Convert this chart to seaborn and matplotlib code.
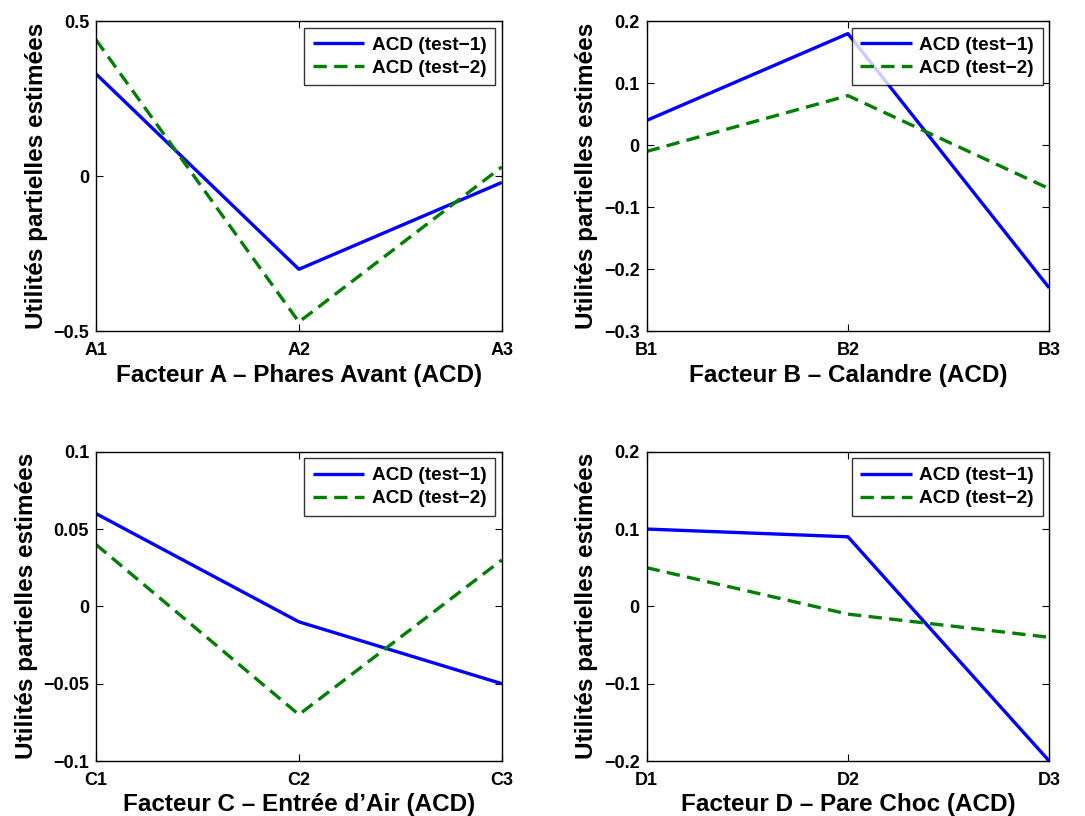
import numpy as np
import pandas as pd
import seaborn as sns
import matplotlib
matplotlib.use("Agg")
import matplotlib.pyplot as plt

# valeurs
niveaux_a = ["A1", "A2", "A3"]
niveaux_b = ["B1", "B2", "B3"]
niveaux_c = ["C1", "C2", "C3"]
niveaux_d = ["D1", "D2", "D3"]

test1_a = [0.33, -0.30, -0.02]
test2_a = [0.44, -0.47, 0.03]
test1_b = [0.04, 0.18, -0.23]
test2_b = [-0.01, 0.08, -0.07]
test1_c = [0.06, -0.01, -0.05]
test2_c = [0.04, -0.07, 0.03]
test1_d = [0.10, 0.09, -0.20]
test2_d = [0.05, -0.01, -0.04]

titres = ["Facteur A \u2013 Phares Avant (ACD)", "Facteur B \u2013 Calandre (ACD)",
          "Facteur C \u2013 Entrée d\u2019Air (ACD)", "Facteur D \u2013 Pare Choc (ACD)"]
yticks = [[-0.5, 0, 0.5], [-0.3, -0.2, -0.1, 0, 0.1, 0.2],
          [-0.1, -0.05, 0, 0.05, 0.1], [-0.2, -0.1, 0, 0.1, 0.2]]
series_labels = ["ACD (test\u22121)", "ACD (test\u22122)"]

sns.set_style("ticks")
plt.rcParams['font.family'] = ['Liberation Sans', 'DejaVu Sans']
plt.rcParams['font.weight'] = 'bold'
plt.rcParams['axes.labelweight'] = 'bold'
for k in ['text.color', 'axes.labelcolor', 'xtick.color', 'ytick.color', 'axes.edgecolor']:
    plt.rcParams[k] = 'black'

fig = plt.figure(figsize=(10.85, 8.16), dpi=100)
positions = [[0.0885, 0.594, 0.374, 0.380], [0.596, 0.594, 0.371, 0.380],
             [0.0885, 0.0674, 0.374, 0.379], [0.596, 0.0674, 0.371, 0.379]]

panels = [(niveaux_a, test1_a, test2_a), (niveaux_b, test1_b, test2_b),
          (niveaux_c, test1_c, test2_c), (niveaux_d, test1_d, test2_d)]

for i, (niv, t1, t2) in enumerate(panels):
    ax = fig.add_axes(positions[i])
    df = pd.DataFrame({
        'x': list(range(3)) * 2,
        'y': t1 + t2,
        'serie': [series_labels[0]] * 3 + [series_labels[1]] * 3,
    })
    sns.lineplot(data=df, x='x', y='y', hue='serie', style='serie',
                 palette=['#0000ff', '#007f00'], dashes=[(1, 0), (4, 2.2)],
                 linewidth=2.4, ax=ax)
    ax.set_xlim(0, 2)
    ax.set_ylim(yticks[i][0], yticks[i][-1])
    ax.set_xticks([0, 1, 2])
    ax.set_xticklabels(niv)
    ax.set_yticks(yticks[i])
    ax.set_yticklabels([f"{v:g}".replace('-', '\u2212') for v in yticks[i]])
    ax.tick_params(direction='in', top=True, right=True, labelsize=13, length=5,
                   width=0.8, pad=5)
    ax.tick_params(axis='x', pad=8)
    for s in ax.spines.values():
        s.set_linewidth(1.0)
    ax.set_xlabel(titres[i], fontsize=17.5, fontweight='bold', labelpad=3)
    ax.set_ylabel("Utilités partielles estimées", fontsize=17.5, fontweight='bold', labelpad=4)
    leg = ax.legend(loc='upper right', fontsize=13.7, handlelength=2.7, frameon=True,
                    fancybox=False, borderaxespad=0.35, borderpad=0.45, labelspacing=0.3,
                    handletextpad=0.4)
    leg.get_frame().set_edgecolor('black')
    leg.get_frame().set_linewidth(1.0)
    for t in leg.get_texts():
        t.set_fontweight('bold')
    for l in leg.get_lines():
        l.set_linewidth(2.4)

fig.savefig("out.png", dpi=100)
